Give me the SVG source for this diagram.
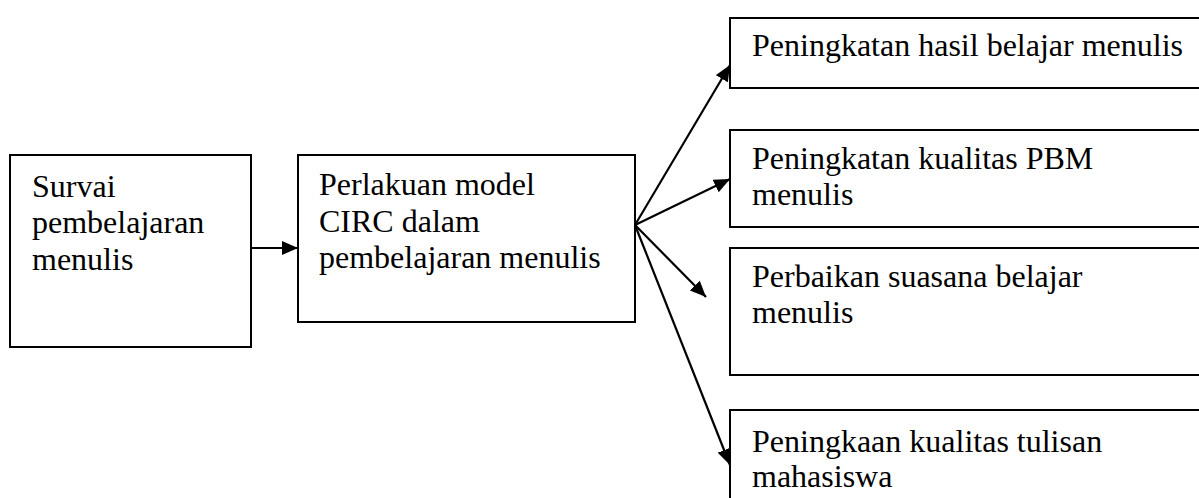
<svg xmlns="http://www.w3.org/2000/svg" width="1199" height="498" viewBox="0 0 1199 498">
<style>
.box{fill:#fff;stroke:#000;stroke-width:2}
.t{font-family:"Liberation Serif","Times New Roman",serif;font-size:32px;fill:#000}
.c{stroke:#000;stroke-width:2.2;fill:none}
</style>
<defs>
<marker id="ah" markerUnits="userSpaceOnUse" markerWidth="17" markerHeight="14" refX="16" refY="7" orient="auto">
<path d="M0,0 L16,7 L0,14 z" fill="#000"/>
</marker>
</defs>
<rect width="1199" height="498" fill="#fff"/>
<g id="n1"><rect class="box" x="10" y="155" width="241" height="192"/>
<text class="t"><tspan x="32" y="197">Survai</tspan><tspan x="32" y="233">pembelajaran</tspan><tspan x="32" y="270">menulis</tspan></text></g>
<g id="n2"><rect class="box" x="298" y="155" width="337" height="167"/>
<text class="t"><tspan x="319" y="195">Perlakuan model</tspan><tspan x="319" y="232">CIRC dalam</tspan><tspan x="319" y="268">pembelajaran menulis</tspan></text></g>
<g id="n3"><rect class="box" x="730" y="18" width="480" height="70"/>
<text class="t"><tspan x="752" y="56">Peningkatan hasil belajar menulis</tspan></text></g>
<g id="n4"><rect class="box" x="730" y="130" width="480" height="97"/>
<text class="t"><tspan x="752" y="169">Peningkatan kualitas PBM</tspan><tspan x="752" y="205">menulis</tspan></text></g>
<g id="n5"><rect class="box" x="730" y="248" width="480" height="127"/>
<text class="t"><tspan x="752" y="287">Perbaikan suasana belajar</tspan><tspan x="752" y="323">menulis</tspan></text></g>
<g id="n6"><rect class="box" x="730" y="410" width="480" height="100"/>
<text class="t"><tspan x="752" y="452">Peningkaan kualitas tulisan</tspan><tspan x="752" y="487">mahasiswa</tspan></text></g>
<g id="connectors">
<line class="c" x1="251" y1="248" x2="298" y2="248" marker-end="url(#ah)"/>
<line class="c" x1="635" y1="225" x2="730" y2="65" marker-end="url(#ah)"/>
<line class="c" x1="635" y1="225" x2="730" y2="179" marker-end="url(#ah)"/>
<line class="c" x1="635" y1="225" x2="706" y2="297" marker-end="url(#ah)"/>
<line class="c" x1="635" y1="225" x2="730" y2="465" marker-end="url(#ah)"/>
</g>
</svg>
